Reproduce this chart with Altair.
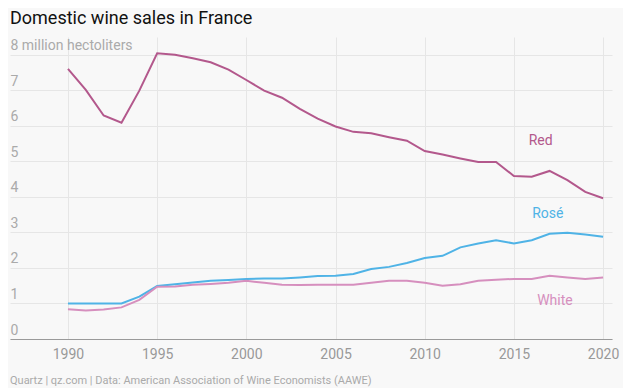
import altair as alt
import pandas as pd

years = list(range(1990, 2021))
red = [7.60, 7.01, 6.29, 6.09, 6.99, 8.04, 8.00, 7.90, 7.79, 7.58,
       7.29, 6.99, 6.79, 6.48, 6.20, 5.98, 5.83, 5.79, 5.68, 5.58,
       5.29, 5.19, 5.08, 4.98, 4.98, 4.59, 4.57, 4.73, 4.47, 4.14, 3.96]
rose = [1.00, 1.00, 1.00, 1.00, 1.19, 1.49, 1.54, 1.59, 1.64, 1.66,
        1.69, 1.70, 1.70, 1.73, 1.77, 1.78, 1.83, 1.97, 2.03, 2.14,
        2.28, 2.34, 2.58, 2.69, 2.78, 2.69, 2.78, 2.96, 2.99, 2.94, 2.88]
white = [0.84, 0.80, 0.83, 0.89, 1.10, 1.47, 1.48, 1.53, 1.55, 1.58,
         1.64, 1.58, 1.53, 1.52, 1.53, 1.53, 1.53, 1.58, 1.64, 1.64,
         1.58, 1.50, 1.54, 1.64, 1.67, 1.69, 1.69, 1.78, 1.73, 1.69, 1.73]

series = ["Red", "Rosé", "White"]
colors = ["#b3588c", "#4fb3e6", "#d68fbe"]
label_x = [2016.5, 2016.9, 2017.3]
label_y = [5.56, 3.51, 1.07]
x_ticks = [1990, 1995, 2000, 2005, 2010, 2015, 2020]
y_ticks = [0, 1, 2, 3, 4, 5, 6, 7, 8]

rows = []
for name, vals in zip(series, [red, rose, white]):
    for y, v in zip(years, vals):
        rows.append({"year": y, "value": v, "type": name})
df = pd.DataFrame(rows)
labels = pd.DataFrame({"type": series, "x": label_x, "y": label_y})

W, H = 602, 302
FONT = "Roboto"

xscale = alt.Scale(domain=[1986.75, 2020.5], nice=False, zero=False)
yscale = alt.Scale(domain=[0, 8.5], nice=False)
cscale = alt.Scale(domain=series, range=colors)

xaxis = alt.Axis(values=x_ticks, format="d", title=None, ticks=False, labelPadding=8,
                 labelFontSize=14, labelColor="#999999", labelFont=FONT,
                 domainColor="#9a9a9a", domainWidth=1,
                 gridColor="#e6e6e6", labelFlush=False)
yaxis = alt.Axis(values=y_ticks, title=None,
                 ticks=False, domain=False, labelAlign="left",
                 labelBaseline="alphabetic", labelPadding=0,
                 labelOffset=-5, labelFontSize=14, labelOverlap=False,
                 labelColor="#aaaaaa", labelFont=FONT,
                 gridColor="#e6e6e6",
                 labelExpr="datum.value == 8 ? '8 million hectoliters' : datum.label")

lines = alt.Chart(df).mark_line(strokeWidth=2).encode(
    x=alt.X("year:Q", scale=xscale, axis=xaxis),
    y=alt.Y("value:Q", scale=yscale, axis=yaxis),
    color=alt.Color("type:N", scale=cscale, legend=None),
    detail="type:N",
)

text = alt.Chart(labels).mark_text(fontSize=14, font=FONT, align="center",
                                   baseline="middle").encode(
    x=alt.X("x:Q", scale=xscale, axis=xaxis),
    y=alt.Y("y:Q", scale=yscale, axis=yaxis),
    text="type:N",
    color=alt.Color("type:N", scale=cscale, legend=None),
)

footer = alt.Chart(pd.DataFrame({"t": ["Quartz | qz.com | Data: American Association of Wine Economists (AAWE)"]})).mark_text(
    fontSize=11, font=FONT, align="left", baseline="middle", color="#aaaaaa"
).encode(x=alt.value(0), y=alt.value(H + 42), text="t:N")

chart = alt.layer(lines, text, footer).properties(
    width=W, height=H,
    autosize=alt.AutoSizeParams(type="none"),
    padding={"left": 2, "top": 29, "right": 11, "bottom": 49},
    background="#f8f8f8",
    title=alt.TitleParams("Domestic wine sales in France", anchor="start",
                          fontSize=18, font=FONT, fontWeight="normal",
                          color="#111111", offset=9, frame="group"),
).configure_view(stroke=None)

chart.save("out.html", embed_options={"renderer": "svg", "actions": False})
